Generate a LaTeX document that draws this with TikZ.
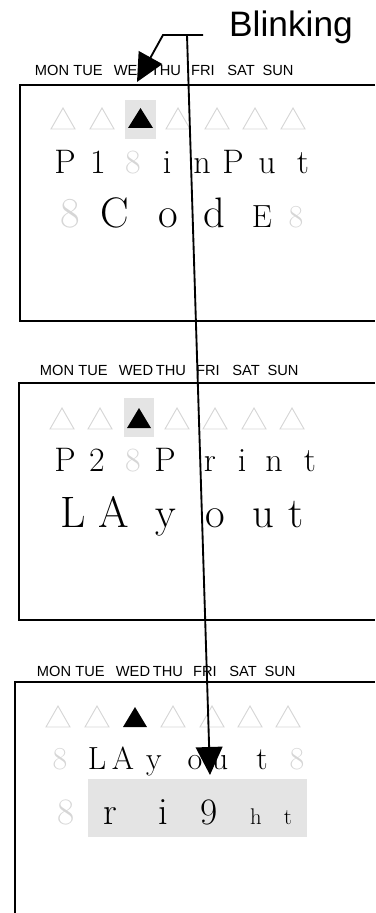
\documentclass[tikz,border=0pt]{standalone}
\usepackage{fontspec}
\usepackage{tikz}
\usetikzlibrary{positioning,arrows.meta}
\newfontfamily\labelfont{Liberation Sans}
\definecolor{dimseg}{RGB}{214,214,214}
\definecolor{hilite}{RGB}{228,228,228}
\newcommand{\lcd}[1]{\fontsize{#1}{#1}\selectfont}
\tikzset{
  panel/.style ={draw=black, line width=1.4pt},
  tri/.style   ={draw=dimseg, line width=0.7pt},
  day/.style   ={font=\labelfont\fontsize{11}{11}\selectfont, anchor=base, inner sep=0pt},
  ch/.style    ={anchor=base, inner sep=0pt},
  ar/.style    ={-{Triangle[length=21pt,width=20pt]}, line width=1.4pt},
}

\begin{document}
\begin{tikzpicture}[x=0.75pt,y=-0.75pt]
\useasboundingbox (0,0) rectangle (375,913);

\node[ch,font=\labelfont\fontsize{26.5}{26.5}\selectfont] (blink) at (291,37) {Blinking};
\coordinate (lead) at (203,35);
\coordinate (knee) at (163,35);
\coordinate (fork) at (187,35);
\coordinate (tipA) at (137,82);
\coordinate (tipB) at (210,775);

% frames
\draw[panel] (375,85) -| (20,321) -- (375,321);
\draw[panel] (375,383) -| (19,620) -- (375,620);
\draw[panel] (375,682) -| (15,913);

% day names
\foreach \d/\x in {MON/57,TUE/93,WED/136,THU/171,FRI/208,SAT/246,SUN/283}{
  \node[day] (dA\d) at (\x-5,76) {\d};
  \node[day] (dB\d) at (\x,375) {\d};
  \node[day] (dC\d) at (\x-3,676) {\d};
}

% day marks
\fill[hilite] (125,100) rectangle (156,139);
\fill[hilite] (124,398) rectangle (154,437);
\foreach \x in {63,102,178,217,255,293}
  \draw[tri] (\x-12,129) -- (\x+12,129) -- (\x,108) -- cycle;
\foreach \x in {62,100,177,215,254,292}
  \draw[tri] (\x-12,429) -- (\x+12,429) -- (\x,408) -- cycle;
\foreach \x in {58,97,173,212,250,288}
  \draw[tri] (\x-12,727) -- (\x+12,727) -- (\x,706) -- cycle;
\fill (128,128) -- (153,128) -- (140.5,108) -- cycle;
\fill (127,428) -- (151,428) -- (139,408) -- cycle;
\fill (123,727) -- (147,727) -- (135,707) -- cycle;

% panel 1 text
\foreach \x/\gl/\sz/\col [count=\i] in {65/P/25.5/black,98/1/25.5/black,133/8/25.5/dimseg,
    167/i/25.5/black,202/n/25.5/black,233/P/25.5/black,267/u/25.5/black,303/t/25.5/black}
  \node[ch,font=\lcd{\sz},text=\col] (aa\i) at (\x,173) {\gl};
\foreach \x/\gl/\sz/\col [count=\i] in {70/8/32/dimseg,115/C/32/black,168/o/32/black,
    214/d/32/black,262/E/24/black,296/8/24/dimseg}
  \node[ch,font=\lcd{\sz},text=\col] (ab\i) at (\x,227) {\gl};

% panel 2 text
\foreach \x/\gl/\sz/\col [count=\i] in {65/P/25.5/black,97/2/25.5/black,133/8/25.5/dimseg,
    165/P/25.5/black,210/r/25.5/black,242/i/25.5/black,274/n/25.5/black,310/t/25.5/black}
  \node[ch,font=\lcd{\sz},text=\col] (ba\i) at (\x,471) {\gl};
\foreach \x/\gl/\sz/\col [count=\i] in {73/L/33/black,114/A/33/black,166/y/32/black,
    215/o/32/black,263/u/32/black,296/t/32/black}
  \node[ch,font=\lcd{\sz},text=\col] (bb\i) at (\x,527) {\gl};

% panel 3 text
\fill[hilite] (88,779) rectangle (307,837);
\foreach \x/\gl/\sz/\col [count=\i] in {60/8/24/dimseg,97/L/24/black,123/A/24/black,
    154/y/24/black,195/o/24/black,220/u/24/black,262/t/24/black,297/8/24/dimseg}
  \node[ch,font=\lcd{\sz},text=\col] (ca\i) at (\x,769) {\gl};
\foreach \x/\gl/\sz/\col [count=\i] in {66/8/28/dimseg,110/r/29/black,163/i/29/black,
    209/9/28/black,256/h/17/black,288/t/17/black}
  \node[ch,font=\lcd{\sz},text=\col] (cb\i) at (\x,824) {\gl};

% pointers
\draw[ar] (lead) -- (knee) -- (tipA);
\draw[ar] (fork) -- (tipB);
\end{tikzpicture}
\end{document}
